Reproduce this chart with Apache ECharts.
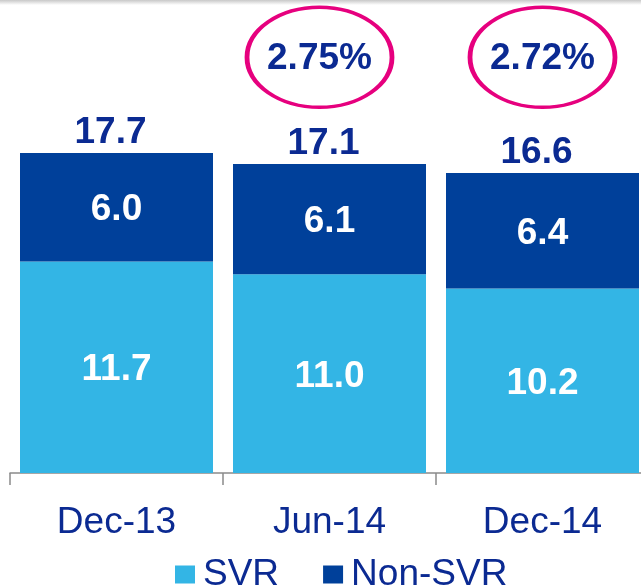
<!DOCTYPE html>
<html>
<head>
<meta charset="utf-8">
<script src="https://cdn.jsdelivr.net/npm/echarts@6/dist/echarts.min.js"></script>
<style>
  html, body { margin: 0; padding: 0; background: #fff; }
  #chart { width: 641px; height: 588px; }
</style>
</head>
<body>
<div id="chart"></div>
<script>
// data
const categories = ['Dec-13', 'Jun-14', 'Dec-14'];
const svr = [11.7, 11.0, 10.2];
const nonSvr = [6.0, 6.1, 6.4];
const totals = [17.7, 17.1, 16.6];
const rates = [null, 2.75, 2.72]; // circled margin figures

const NAVY = '#0b2a92';
const FONT = '"Liberation Sans", Arial, sans-serif';
const RATE_Y = 23;               // height where the circled figures sit
const RATE_SHIFT = [0, -10, 0];  // the Jun-14 ellipse sits a little left of centre

const chart = echarts.init(document.getElementById('chart'));

const num = v => (Array.isArray(v) ? v[1] : v);
const boldLabel = (extra) => Object.assign({
  show: true, fontSize: 37, fontWeight: 'bold', fontFamily: FONT,
  formatter: p => num(p.value).toFixed(1)
}, extra);

chart.setOption({
  animation: false,
  textStyle: { fontFamily: FONT },
  graphic: [{
    type: 'rect',
    left: 0, top: 0,
    shape: { width: 641, height: 5 },
    style: {
      fill: new echarts.graphic.LinearGradient(0, 0, 0, 1, [
        { offset: 0, color: '#c8c8c8' },
        { offset: 1, color: '#ffffff' }
      ])
    },
    silent: true
  }],
  grid: { left: 10, width: 639, top: 3, bottom: 115, outerBoundsMode: 'none', containLabel: false },
  legend: {
    data: ['SVR', 'Non-SVR'],
    left: 170,
    top: 551,
    itemWidth: 20,
    itemHeight: 18,
    itemGap: 44,
    icon: 'rect',
    textStyle: { color: NAVY, fontSize: 37, fontFamily: FONT, padding: [0, 0, 0, 3] }
  },
  xAxis: {
    type: 'category',
    data: categories,
    axisLine: { lineStyle: { color: '#8a8a8a', width: 1.5 } },
    axisTick: { show: true, length: 12, lineStyle: { color: '#8a8a8a', width: 1.5 } },
    axisLabel: { color: NAVY, fontSize: 37, margin: 31, fontFamily: FONT }
  },
  yAxis: {
    type: 'value',
    min: 0,
    max: 26,
    show: false,
    splitLine: { show: false }
  },
  series: [
    {
      name: 'SVR',
      type: 'bar',
      stack: 'total',
      barWidth: 193,
      itemStyle: { color: '#33b5e5' },
      label: boldLabel({ position: 'inside', color: '#fff', offset: [0, 3] }),
      data: svr
    },
    {
      name: 'Non-SVR',
      type: 'bar',
      stack: 'total',
      barWidth: 193,
      itemStyle: { color: '#00409a' },
      label: boldLabel({ position: 'inside', color: '#fff', offset: [0, 3] }),
      data: nonSvr
    },
    {
      name: 'Total',
      type: 'scatter',
      symbol: 'circle',
      symbolSize: 1,
      itemStyle: { color: 'rgba(0,0,0,0)', opacity: 1 },
      silent: true,
      label: boldLabel({ position: 'top', distance: 1, color: NAVY, offset: [-6, 0] }),
      data: totals.map((t, i) => [categories[i], t])
    },
    {
      name: 'Rate',
      type: 'scatter',
      symbol: 'circle',
      symbolSize: [145, 100],
      symbolOffset: (val, params) => [RATE_SHIFT[params.dataIndex], 0],
      itemStyle: { color: 'rgba(0,0,0,0)', borderColor: '#e6007e', borderWidth: 4, opacity: 1 },
      silent: true,
      label: {
        show: true, position: 'inside', color: NAVY, offset: [0, 2],
        fontSize: 37, fontWeight: 'bold', fontFamily: FONT,
        formatter: p => rates[p.dataIndex].toFixed(2) + '%'
      },
      data: rates.map((r, i) => r == null ? null : [categories[i], RATE_Y])
    }
  ]
});
</script>
</body>
</html>
